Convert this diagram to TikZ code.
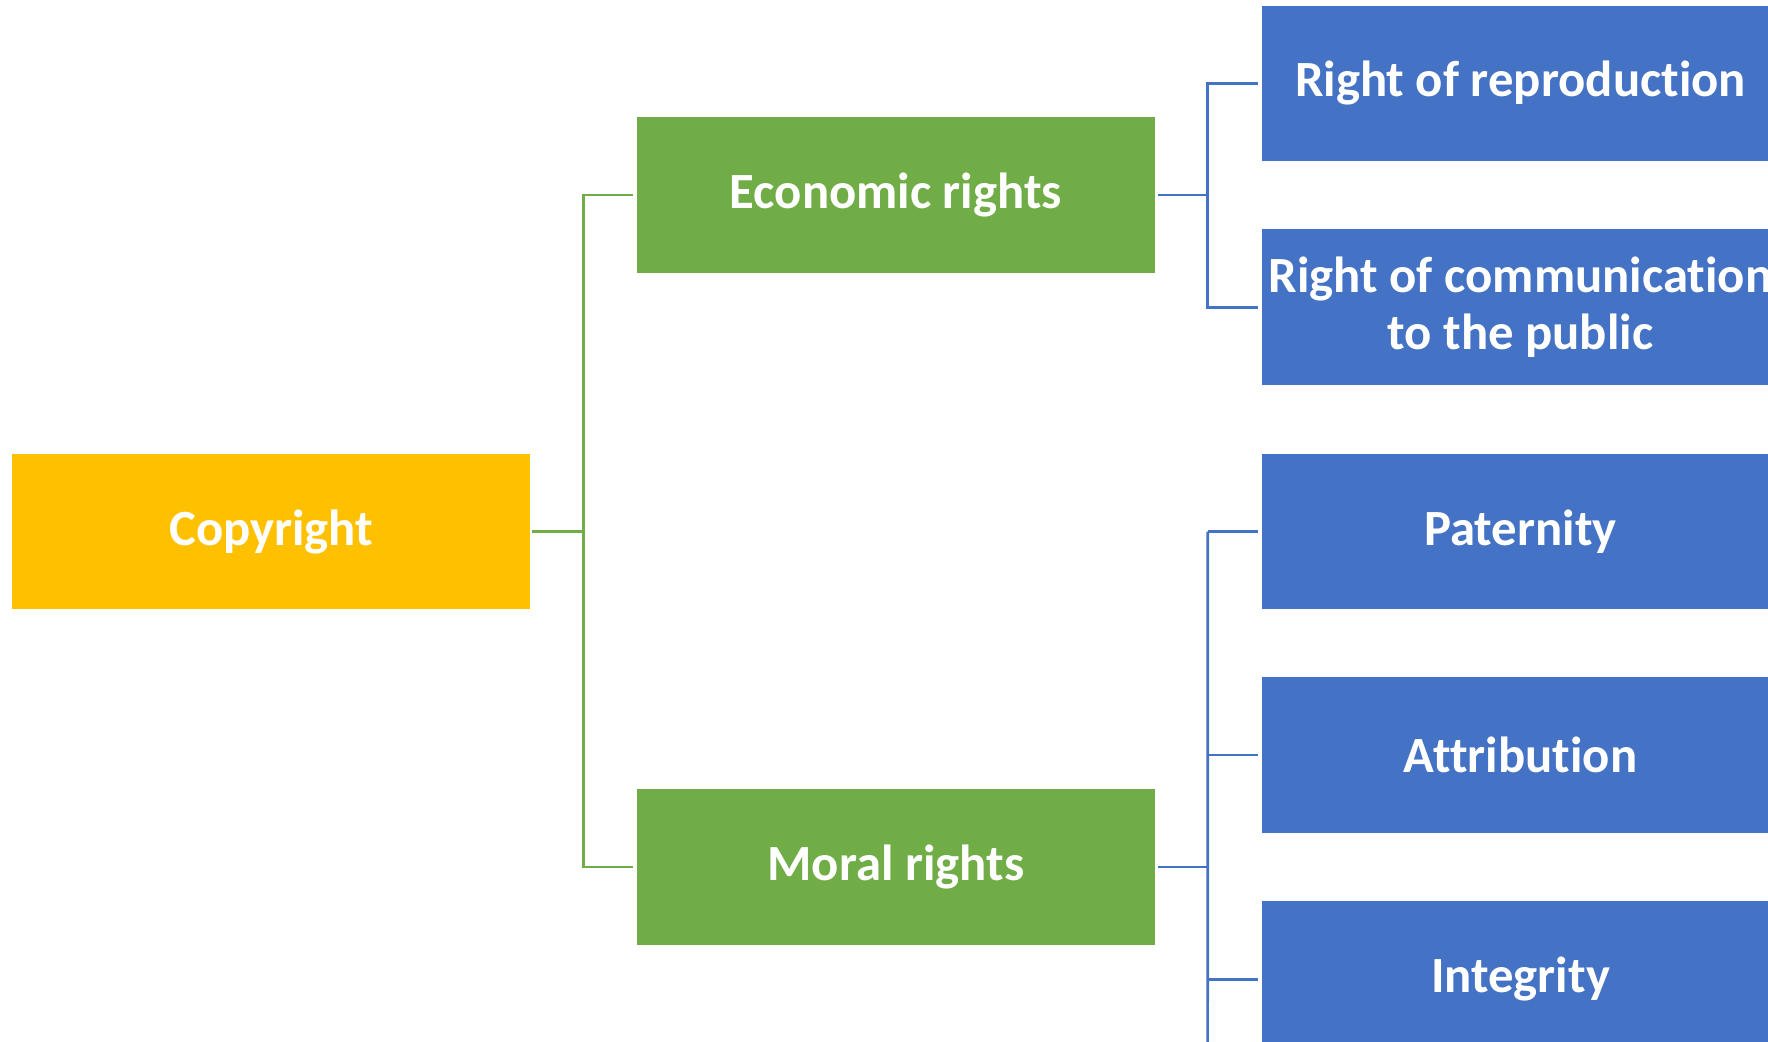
\documentclass[tikz,border=0pt]{standalone}
\usepackage{fontspec}
\setmainfont[Ligatures=NoCommon]{Carlito}
\begin{document}
\begin{tikzpicture}[x=1pt,y=-1pt,
  box/.style={minimum width=459pt,minimum height=138pt,inner sep=0pt,
    text=white,font=\fontsize{45}{50}\selectfont\bfseries,align=center},
  rootbox/.style={box,fill=rootyellow},
  midbox/.style={box,fill=midgreen},
  leafbox/.style={box,fill=leafblue},
  gline/.style={draw=midgreen,line width=2.4pt},
  bline/.style={draw=leafblue,line width=2.4pt}]
\definecolor{rootyellow}{HTML}{FFC000}
\definecolor{midgreen}{HTML}{70AD47}
\definecolor{leafblue}{HTML}{4472C4}
\useasboundingbox (0,0) rectangle (1568,924);
\clip (0,0) rectangle (1568,924);

% nodes
\node[rootbox] (cop) at (240.5,471.5) {Copyright};
\node[midbox] (eco) at (794.5,173) {Economic rights};
\node[midbox] (mor) at (794.5,769) {Moral rights};
\node[leafbox] (rep) at (1348.5,74) {Right of reproduction};
\node[leafbox] (com) at (1348.5,272.5) {Right of communication\\to the public};
\node[leafbox] (pat) at (1348.5,471.5) {Paternity};
\node[leafbox] (att) at (1348.5,669.5) {Attribution};
\node[leafbox] (int) at (1348.5,868.5) {Integrity};
\coordinate (morend) at (1071,935);

% level 1 connectors
\draw[gline] ([xshift=2pt]cop.east) -- ++(45,0) coordinate (gs) |- ([xshift=-3pt]eco.west);
\draw[gline] (gs) |- ([xshift=-3pt]mor.west);

% level 2 connectors
\draw[bline] ([xshift=3pt]eco.east) -- ++(44,0) coordinate (es) |- ([xshift=-3pt]rep.west);
\draw[bline] (es) |- ([xshift=-3pt]com.west);
\draw[bline] ([xshift=3pt]mor.east) -- ++(44,0) coordinate (ms);
\draw[bline] (ms |- pat.west) -- (morend);
\draw[bline] (ms |- pat.west) -- ([xshift=-3pt]pat.west);
\draw[bline] (ms |- att.west) -- ([xshift=-3pt]att.west);
\draw[bline] (ms |- int.west) -- ([xshift=-3pt]int.west);
\end{tikzpicture}
\end{document}
